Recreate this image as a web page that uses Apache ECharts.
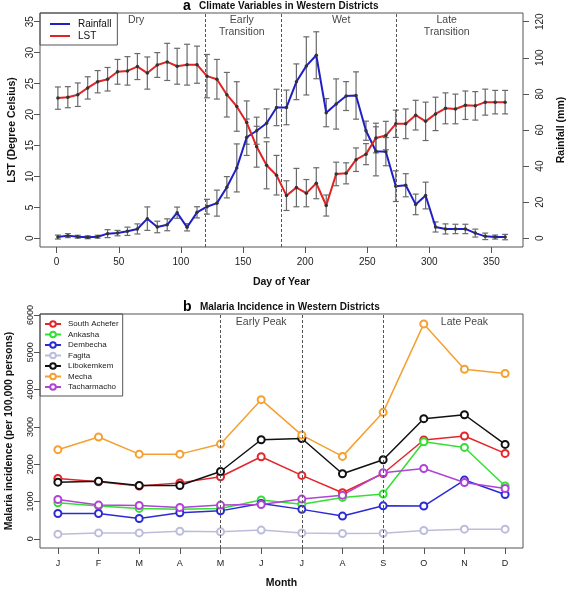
<!DOCTYPE html>
<html><head><meta charset="utf-8">
<script src="https://cdn.jsdelivr.net/npm/echarts@6/dist/echarts.min.js"></script>
<style>html,body{margin:0;padding:0;background:#fff}#c{width:567px;height:590px}</style>
</head><body><div id="c"></div>
<script>
// ---------- Panel a data ----------
const days = [1,9,17,25,33,41,49,57,65,73,81,89,97,105,113,121,129,137,145,153,161,169,177,185,193,201,209,217,225,233,241,249,257,265,273,281,289,297,305,313,321,329,337,345,353,361];
const lst = [22.65,22.8,23.2,24.3,25.3,25.7,26.9,27.05,27.75,26.7,28.0,28.5,27.8,28.05,28.05,26.2,25.7,23.2,21.3,18.7,14.8,11.8,10.2,6.9,8.2,7.3,8.9,5.3,10.4,10.5,12.7,13.6,16.2,16.6,18.5,18.5,19.9,18.9,20.1,21.0,20.9,21.5,21.4,22.0,22.0,22.0];
const lstErr = [1.8,1.7,1.9,1.8,1.8,1.9,2.0,2.3,2.1,2.6,2.0,3.0,2.9,3.3,3.0,3.5,3.2,3.6,4.0,3.5,3.3,3.8,3.2,2.4,3.1,2.2,2.5,1.7,1.9,1.7,1.9,1.7,2.4,2.3,2.2,2.4,2.4,3.1,2.7,2.5,2.4,2.3,2.3,2.1,1.9,1.9];
const rain = [0.7,1.5,0.9,0.6,0.9,2.6,2.9,3.9,5.2,10.9,6.3,7.5,14.2,6.1,14.4,17.5,19.5,28.3,39.0,56.0,59.6,63.7,72.5,72.5,86.7,95.5,101.4,69.6,74.4,78.8,79.1,59.6,48.2,48.0,28.9,29.4,18.8,23.7,6.3,5.2,5.2,5.2,2.9,1.1,0.7,0.7];
const rainErr = [1.1,1.1,0.8,0.8,0.8,2.2,1.5,2.3,2.8,6.5,3.2,3.3,3.1,2.0,3.1,4.1,7.2,5.9,13.3,10.1,7.5,8.0,10.1,9.6,9.9,16.1,13.0,7.8,13.9,8.0,13.1,5.3,13.6,7.8,8.5,6.4,5.7,7.4,2.8,2.8,2.6,2.6,2.2,1.8,1.1,1.5];
const dayTicks = [0,50,100,150,200,250,300,350];
const lstTicks = [0,5,10,15,20,25,30,35];
const rainTicks = [0,20,40,60,80,100,120];
const phaseBreaks = [120,181,273];
const phaseNames = ['Dry','Early\nTransition','Wet','Late\nTransition'];
const phaseX = [64,149,229,314];

// ---------- Panel b data ----------
const months = ['J','F','M','A','M','J','J','A','S','O','N','D'];
const monthIdx = [1,2,3,4,5,6,7,8,9,10,11,12];
const districts = ['South Achefer','Ankasha','Dembecha','Fagita','Libokemkem','Mecha','Tacharmacho'];
const southAchefer = [1620,1530,1415,1500,1665,2200,1700,1235,1750,2650,2755,2290];
const ankasha = [965,880,815,790,815,1040,930,1110,1200,2600,2450,1415];
const dembecha = [680,680,545,700,750,950,790,610,885,880,1575,1190];
const fagita = [125,160,160,205,190,235,160,145,150,225,260,260];
const libokemkem = [1520,1545,1430,1430,1805,2655,2690,1745,2120,3220,3325,2530];
const mecha = [2390,2730,2270,2270,2540,3730,2780,2210,3390,5760,4545,4430];
const tacharmacho = [1055,905,895,840,905,920,1065,1170,1770,1885,1510,1350];
const districtValues = [southAchefer,ankasha,dembecha,fagita,libokemkem,mecha,tacharmacho];
const districtColors = ['#e3262b','#33e033','#2b2bd6','#bdbddb','#111111','#f5a030','#b044d4'];
const incTicks = [0,1000,2000,3000,4000,5000,6000];
const peakBreaks = [5,7,9];
const peakNames = ['Early Peak','Late Peak'];
const peakX = [6,11];

const FONT = '"Liberation Sans", Arial, sans-serif';
const BLUE = '#1f1fc8', RED = '#e02424';
const AX = '#555';

function errRender(params, api) {
  const x = api.value(0), lo = api.value(1), hi = api.value(2);
  const a = api.coord([x, lo]), b = api.coord([x, hi]);
  const w = 3;
  const style = {stroke: '#6a6a6a', lineWidth: 1.2};
  return {type: 'group', children: [
    {type: 'line', shape: {x1: a[0], y1: a[1], x2: b[0], y2: b[1]}, style},
    {type: 'line', shape: {x1: a[0]-w, y1: a[1], x2: a[0]+w, y2: a[1]}, style},
    {type: 'line', shape: {x1: b[0]-w, y1: b[1], x2: b[0]+w, y2: b[1]}, style}
  ]};
}

const tickStyle = {show: true, length: 6, lineStyle: {color: AX, width: 1}};
const lblStyle = {fontSize: 10, color: '#222', fontFamily: FONT};
const nameStyle = {fontSize: 10.5, fontWeight: 'bold', color: '#111', fontFamily: FONT};
const noLine = {show: false, onZero: false};

const gridA = {left: 40, top: 13, width: 483, height: 234, show: true, borderColor: AX, borderWidth: 1,
  containLabel: false, outerBoundsMode: 'none'};
const gridB = {left: 40, top: 314, width: 483, height: 234, show: true, borderColor: AX, borderWidth: 1,
  containLabel: false, outerBoundsMode: 'none'};

const series = [];
// error bars
series.push({type: 'custom', xAxisIndex: 0, yAxisIndex: 0, renderItem: errRender, z: 2,
  encode: {x: 0, y: [1, 2]}, silent: true,
  data: days.map((d, i) => [d, lst[i] - lstErr[i], lst[i] + lstErr[i]])});
series.push({type: 'custom', xAxisIndex: 0, yAxisIndex: 1, renderItem: errRender, z: 2,
  encode: {x: 0, y: [1, 2]}, silent: true,
  data: days.map((d, i) => [d, rain[i] - rainErr[i], rain[i] + rainErr[i]])});
series.push({name: 'Rainfall', type: 'line', xAxisIndex: 0, yAxisIndex: 1, z: 3,
  data: days.map((d, i) => [d, rain[i]]), symbol: 'circle', symbolSize: 3.5,
  lineStyle: {color: BLUE, width: 2}, itemStyle: {color: '#333'}, animation: false});
series.push({name: 'LST', type: 'line', xAxisIndex: 0, yAxisIndex: 0, z: 3,
  data: days.map((d, i) => [d, lst[i]]), symbol: 'circle', symbolSize: 3.5,
  lineStyle: {color: RED, width: 2}, itemStyle: {color: '#333'}, animation: false});
// phase labels + dashed lines
series.push({type: 'scatter', xAxisIndex: 0, yAxisIndex: 0, symbolSize: 0, silent: true,
  data: phaseX.map((x, i) => ({value: [x, 36.4], name: phaseNames[i]})),
  label: {show: true, position: 'bottom', distance: 1, formatter: p => p.name,
    fontSize: 10.5, lineHeight: 12.3, color: '#111', fontFamily: FONT},
  markLine: {silent: true, symbol: 'none', label: {show: false},
    lineStyle: {color: '#555', type: [3, 2], width: 1},
    data: phaseBreaks.map(x => ({xAxis: x}))}});

// panel b
districts.forEach((name, k) => {
  series.push({name, type: 'line', xAxisIndex: 1, yAxisIndex: 2, z: 3,
    data: monthIdx.map((m, i) => [m, districtValues[k][i]]),
    symbol: 'emptyCircle', symbolSize: 7,
    lineStyle: {color: districtColors[k], width: 1.5},
    itemStyle: {color: districtColors[k], borderWidth: 1.5}, animation: false});
});
series.push({type: 'scatter', xAxisIndex: 1, yAxisIndex: 2, symbolSize: 0, silent: true,
  data: peakX.map((x, i) => ({value: [x, 6025], name: peakNames[i]})),
  label: {show: true, position: 'bottom', distance: 3, formatter: p => p.name,
    fontSize: 10.5, color: '#111', fontFamily: FONT},
  markLine: {silent: true, symbol: 'none', label: {show: false},
    lineStyle: {color: '#555', type: [3, 2], width: 1},
    data: peakBreaks.map(x => ({xAxis: x}))}});

const plain = v => String(v);
const titleRich = {a: {fontSize: 14, fontWeight: 'bold', color: '#000', fontFamily: FONT},
  t: {fontSize: 10, fontWeight: 'bold', color: '#111', fontFamily: FONT}};

const option = {
  backgroundColor: '#fff',
  animation: false,
  textStyle: {fontFamily: FONT},
  title: [
    {text: '{a|a}{t|   Climate Variables in Western Districts}', left: 183, top: -1, padding: 0,
      textStyle: {rich: titleRich}},
    {text: '{a|b}{t|   Malaria Incidence in Western Districts}', left: 183, top: 300, padding: 0,
      textStyle: {rich: titleRich}}
  ],
  legend: [
    {left: 40, top: 13, orient: 'vertical', padding: [6, 6, 4, 10], itemGap: 2,
      itemWidth: 20, itemHeight: 2, borderColor: AX, borderWidth: 1,
      textStyle: {fontSize: 10, color: '#111', fontFamily: FONT, padding: [0, 0, 0, 3]},
      data: [{name: 'Rainfall', icon: 'rect', itemStyle: {color: BLUE}},
             {name: 'LST', icon: 'rect', itemStyle: {color: RED}}]},
    {left: 40, top: 314, orient: 'vertical', padding: [5, 4, 4, 4], itemGap: 0.5,
      itemWidth: 16, itemHeight: 7, borderColor: AX, borderWidth: 1,
      textStyle: {fontSize: 8, color: '#222', fontFamily: FONT, lineHeight: 10, padding: [0, 0, 0, 2]},
      data: districts}
  ],
  grid: [gridA, gridB],
  xAxis: [
    {gridIndex: 0, type: 'value', min: -13.4, max: 375.4,
      axisLine: noLine, splitLine: {show: false},
      axisTick: Object.assign({customValues: dayTicks}, tickStyle),
      axisLabel: Object.assign({customValues: dayTicks, margin: 10, formatter: plain}, lblStyle),
      name: 'Day of Year', nameLocation: 'middle', nameGap: 30, nameTextStyle: nameStyle},
    {gridIndex: 1, type: 'value', min: 0.56, max: 12.44,
      axisLine: noLine, splitLine: {show: false},
      axisTick: Object.assign({customValues: monthIdx}, tickStyle),
      axisLabel: Object.assign({customValues: monthIdx, margin: 11,
        formatter: v => months[Math.round(v) - 1] || ''}, lblStyle, {fontSize: 9}),
      name: 'Month', nameLocation: 'middle', nameGap: 30, nameTextStyle: nameStyle}
  ],
  yAxis: [
    {gridIndex: 0, type: 'value', min: -1.4, max: 36.4, position: 'left',
      axisLine: noLine, splitLine: {show: false},
      axisTick: Object.assign({customValues: lstTicks}, tickStyle),
      axisLabel: Object.assign({customValues: lstTicks, rotate: 90, margin: 4.5, formatter: plain}, lblStyle),
      name: 'LST (Degree Celsius)', nameLocation: 'middle', nameGap: 22, nameTextStyle: nameStyle},
    {gridIndex: 0, type: 'value', min: -4.8, max: 124.8, position: 'right',
      axisLine: noLine, splitLine: {show: false},
      axisTick: Object.assign({customValues: rainTicks}, tickStyle),
      axisLabel: Object.assign({customValues: rainTicks, rotate: 90, margin: 12, formatter: plain}, lblStyle),
      name: 'Rainfall (mm)', nameLocation: 'middle', nameGap: 33, nameRotate: 90, nameTextStyle: nameStyle},
    {gridIndex: 1, type: 'value', min: -245, max: 6025, position: 'left',
      axisLine: noLine, splitLine: {show: false},
      axisTick: Object.assign({customValues: incTicks}, tickStyle),
      axisLabel: Object.assign({customValues: incTicks, rotate: 90, margin: 5, formatter: plain}, lblStyle, {fontSize: 9}),
      name: 'Malaria incidence (per 100,000 persons)', nameLocation: 'middle', nameGap: 25, nameTextStyle: nameStyle}
  ],
  series
};
const chart = echarts.init(document.getElementById('c'), null, {renderer: 'canvas'});
chart.setOption(option);
</script>
</body></html>
